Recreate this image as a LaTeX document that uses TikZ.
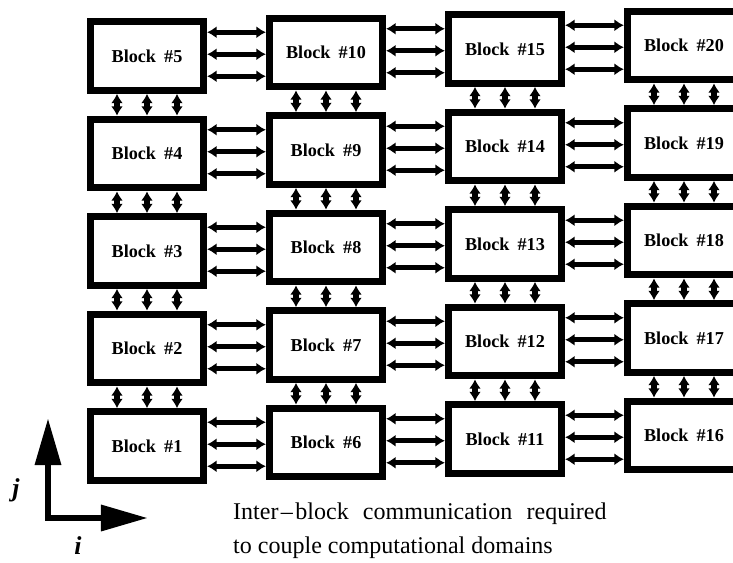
\documentclass[tikz,border=0pt]{standalone}
\usepackage{fontspec}
\setmainfont{Liberation Serif}
\usetikzlibrary{arrows.meta, calc}

\begin{document}
\begin{tikzpicture}[
  x=0.03cm, y=-0.03cm,
  blockbox/.style={draw, line width=6pt, fill=white, inner sep=0pt,
                   minimum width=3.4cm, minimum height=2.06cm,
                   font=\fontsize{15.5}{18}\selectfont\bfseries},
  link/.style={{Latex[length=2.8mm,width=3.6mm]}-{Latex[length=2.8mm,width=3.6mm]},
               line width=4.6pt},
  axis/.style={{Triangle[length=1.41cm,width=0.75cm]}-{Triangle[length=1.41cm,width=0.75cm]},
               line width=5.5pt, line join=miter},
]
\clip (0,0) rectangle (733,562);

% grid of blocks, numbered up each column
\foreach \c in {0,...,3}{
  \foreach \r in {0,...,4}{
    \pgfmathtruncatemacro{\n}{5*\c+\r+1}
    \node[blockbox] (b\n) at (147+179*\c, 446-97.5*\r-3.5*\c) {Block\hspace{0.45em}\#\n};
  }
}

% links along i
\foreach \c in {0,1,2}{
  \foreach \r in {0,...,4}{
    \pgfmathtruncatemacro{\cur}{5*\c+\r+1}
    \pgfmathtruncatemacro{\nxt}{\cur+5}
    \foreach \d in {-22,0,22}{
      \coordinate (s) at ($(b\cur.east)!0.5!(b\nxt.west)+(0,\d)$);
      \draw[link] (s -| b\cur.east) -- (s -| b\nxt.west);
    }
  }
}

% links along j
\foreach \c in {0,...,3}{
  \foreach \r in {0,...,3}{
    \pgfmathtruncatemacro{\lo}{5*\c+\r+1}
    \pgfmathtruncatemacro{\up}{\lo+1}
    \foreach \d in {-30,0,30}
      \draw[link] ($(b\lo.north)+(\d,0)$) -- ($(b\up.south)+(\d,0)$);
  }
}

% index axes
\coordinate (origin) at (48,518);
\coordinate (jtip) at (48,418);
\coordinate (itip) at (148,518);
\draw[axis] (jtip) -- (origin) -- (itip);
\node[inner sep=0pt, font=\fontsize{22}{22}\selectfont\bfseries\itshape] (jlab) at (16,490) {j};
\node[inner sep=0pt, font=\fontsize{22}{22}\selectfont\bfseries\itshape] (ilab) at (78,546) {i};

\node[anchor=north west, align=left, inner sep=0pt,
      font=\fontsize{20.5}{29}\selectfont] (note) at (233,503)
  {\makebox[11.2cm][s]{Inter\kern0.1em–\kern0.1em block communication required}\\to couple computational domains};
\end{tikzpicture}
\end{document}
